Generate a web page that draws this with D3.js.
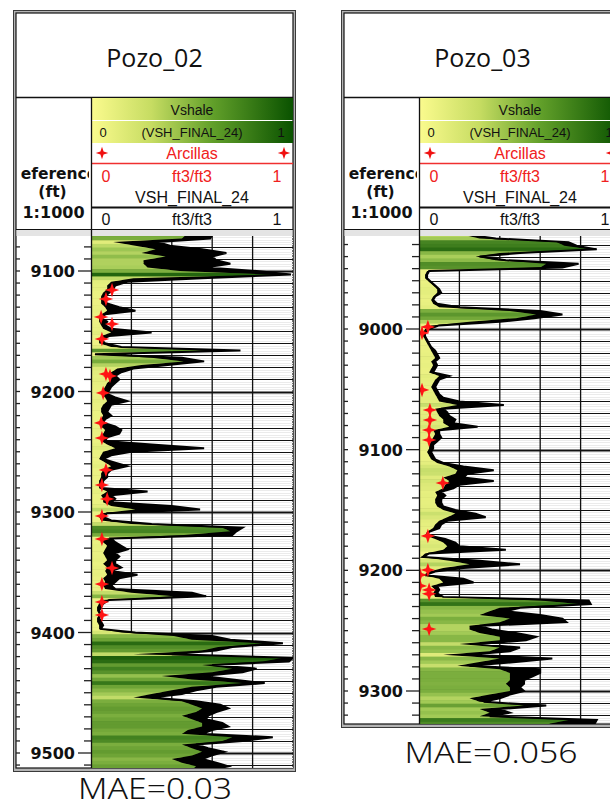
<!DOCTYPE html>
<html><head><meta charset="utf-8">
<script src="https://cdn.jsdelivr.net/npm/d3@7"></script>
<style>body{margin:0;background:#fff}svg{display:block}</style>
</head><body>
<svg id="c" width="610" height="807"></svg>
<script>
// ---------------- DATA ----------------
const wellNames = ["Pozo_02", "Pozo_03"];
const maeLabels = ["MAE=0.03", "MAE=0.056"];
const depthTicks02 = [9100, 9200, 9300, 9400, 9500];
const depthTicks03 = [9000, 9100, 9200, 9300];
const sampleStep = 3;           // ft between samples
const startDepth02 = 9070;
const startDepth03 = 8922;

// Vshale shading (fill) and VSH_FINAL_24 curve, Pozo_02 (0..1)
const fill02 = [.47,.45,.11,.22,.32,.25,.37,.26,.26,.28,.44,.90,.21,.10,.08,.08,.06,.05,.05,.05,
.07,.08,.05,.04,.04,.05,.06,.10,.05,.04,.04,.10,.59,.01,.30,.46,.25,.13,.10,.08,
.10,.08,.07,.06,.05,.07,.08,.06,.05,.05,.06,.05,.04,.05,.07,.06,.05,.05,.08,.12,
.06,.05,.04,.07,.10,.06,.05,.05,.04,.04,.04,.08,.05,.06,.06,.10,.22,.05,.04,.05,
.20,.65,.69,.46,.05,.06,.08,.07,.06,.07,.08,.06,.08,.07,.08,.06,.07,.06,.07,.20,
.41,.05,.04,.03,.03,.04,.03,.03,.04,.04,.15,.41,.50,.85,.63,.55,.21,.95,.85,.55,
.70,.60,.35,.50,.75,.50,.40,.30,.21,.45,.50,.55,.52,.45,.50,.55,.55,.48,.45,.70,
.65,.45,.50,.55,.50,.40,.45,.52,.50];
const line02 = [.60,.59,.33,.39,.55,.67,.60,.62,.69,.57,.82,.99,.55,.18,.12,.11,.09,.07,.06,.08,
.14,.22,.07,.05,.08,.07,.10,.30,.09,.05,.07,.15,.74,.02,.45,.56,.38,.21,.15,.12,
.14,.12,.10,.09,.08,.12,.18,.10,.09,.08,.10,.07,.06,.12,.15,.14,.08,.07,.30,.56,
.20,.10,.06,.12,.18,.10,.08,.08,.06,.06,.05,.28,.10,.12,.10,.40,.54,.08,.06,.10,
.30,.75,.72,.70,.10,.12,.15,.18,.12,.14,.12,.12,.15,.10,.23,.14,.12,.10,.12,.50,
.57,.09,.06,.05,.04,.05,.04,.05,.06,.05,.22,.60,.69,.95,.70,.62,.40,1.0,.98,.60,
.82,.75,.55,.70,.86,.62,.52,.45,.30,.52,.64,.68,.62,.58,.57,.65,.68,.60,.55,.90,
.75,.52,.58,.66,.60,.55,.62,.68,.60];

// Pozo_03
const fill03 = [.22,.30,.68,.72,.84,.40,.28,.38,.63,.60,.04,.03,.03,.05,.07,.09,.09,.07,.06,.07,
.10,.45,.58,.48,.25,.06,.03,.02,.02,.03,.04,.05,.06,.07,.08,.06,.07,.06,.05,.10,
.08,.07,.06,.07,.08,.09,.10,.19,.08,.09,.10,.12,.12,.15,.07,.08,.07,.06,.05,.05,
.04,.05,.06,.09,.15,.19,.18,.12,.15,.13,.12,.08,.09,.08,.08,.09,.12,.18,.14,.10,
.08,.07,.04,.03,.08,.12,.14,.12,.03,.01,.15,.25,.12,.05,.02,.10,.12,.06,.08,.07,
.08,.60,.79,.40,.35,.30,.45,.40,.25,.25,.30,.40,.40,.20,.40,.35,.12,.40,.30,.19,
.40,.45,.45,.45,.43,.45,.45,.35,.25,.30,.52,.30,.35,.30,.74,.65,.60];
const line03 = [.25,.38,.74,.78,.88,.50,.30,.43,.79,.71,.05,.04,.04,.06,.08,.10,.11,.08,.07,.09,
.20,.60,.71,.57,.40,.10,.05,.03,.03,.04,.05,.06,.08,.09,.10,.08,.09,.08,.07,.15,
.10,.09,.08,.09,.10,.12,.20,.42,.12,.14,.15,.18,.17,.29,.10,.10,.11,.09,.07,.07,
.06,.07,.08,.12,.22,.37,.24,.22,.37,.20,.17,.11,.13,.11,.11,.12,.18,.28,.33,.14,
.11,.10,.05,.04,.13,.18,.20,.43,.05,.02,.30,.50,.22,.08,.03,.22,.27,.09,.10,.09,
.12,.84,.85,.50,.43,.60,.71,.73,.30,.36,.48,.58,.53,.30,.50,.45,.25,.66,.48,.25,
.60,.60,.56,.52,.52,.50,.52,.45,.40,.32,.63,.40,.45,.35,.88,.87,.70];

// Arcillas (core clay points): [depth ft, value]
const stars02 = [[9115.8,.104],[9123.2,.074],[9138.2,.05],[9144,.104],[9156.4,.054],[9185.5,.074],
[9187.1,.094],[9201.2,.06],[9226.1,.05],[9238.6,.054],[9265.1,.074],[9277.6,.054],[9289.2,.08],
[9303.3,.054],[9322.4,.054],[9346.5,.104],[9359.8,.054],[9374.7,.054],[9385.5,.054]];
const stars03 = [[8998.3,.044],[9003.3,.015],[9050.5,.015],[9067.1,.054],[9075.4,.054],[9083.7,.05],
[9092,.05],[9127.6,.118],[9171.5,.044],[9199.7,.044],[9203.8,.005],[9212.9,.005],[9216.2,.05],
[9219.5,.05],[9248.6,.05]];

// ---------------- DRAW ----------------
const svg = d3.select("#c");
const defs = svg.append("defs");
const grad = defs.append("linearGradient").attr("id", "vg");
[["0%","#fbfb8e"],["30%","#c6dc62"],["60%","#62a02a"],["100%","#0a5200"]].forEach(s =>
  grad.append("stop").attr("offset", s[0]).attr("stop-color", s[1]));

const vshColor = d3.scaleLinear()
  .domain([0, 0.12, 0.3, 0.5, 0.75, 1])
  .range(["#f4f68a", "#dfeb7a", "#a2ca56", "#6ea436", "#37781a", "#165806"]);

const starType = {
  draw(ctx, size) {
    const r = Math.sqrt(size) * 0.75, a = r * 0.25;
    ctx.moveTo(0, -r); ctx.lineTo(a, -a); ctx.lineTo(r, 0); ctx.lineTo(a, a);
    ctx.lineTo(0, r); ctx.lineTo(-a, a); ctx.lineTo(-r, 0); ctx.lineTo(-a, -a); ctx.closePath();
  }
};
const starPath = d3.symbol().type(starType).size(95)();
const starPathSmall = d3.symbol().type(starType).size(70)();

function panel(cfg) {
  const L = cfg.left, B = cfg.bottom;
  const g = svg.append("g");
  const trackL = L + 78, trackR = L + 280, cx = (trackL + trackR) / 2;
  const dataTop = 236, dataBot = B - 3;
  const x = d3.scaleLinear().domain([0, 1]).range([trackL, trackR]);
  const y = d3.scaleLinear().domain(cfg.yDomain).range(cfg.yRange);

  // frame
  g.append("rect").attr("x", L + 0.5).attr("y", 10.5).attr("width", 282).attr("height", B - 10)
    .attr("fill", "#b4b4b4").attr("stroke", "#3a3a3a");
  g.append("rect").attr("x", L + 3).attr("y", 13).attr("width", 277).attr("height", B - 16)
    .attr("fill", "#fff").attr("stroke", "#111").attr("stroke-width", 1.2);

  // title
  g.append("text").attr("x", L + 141.5).attr("y", 67).attr("text-anchor", "middle")
    .attr("font-family", "'Open Sans', sans-serif").attr("font-size", 25).attr("fill", "#111")
    .text(cfg.name);
  g.append("line").attr("x1", L + 3).attr("x2", L + 280).attr("y1", 97.5).attr("y2", 97.5)
    .attr("stroke", "#111").attr("stroke-width", 1.5);

  // header track
  g.append("rect").attr("x", trackL).attr("y", 98).attr("width", trackR - trackL).attr("height", 22).attr("fill", "url(#vg)");
  g.append("rect").attr("x", trackL).attr("y", 121).attr("width", trackR - trackL).attr("height", 22).attr("fill", "url(#vg)");
  const hf = "'Liberation Sans', Arial, sans-serif";
  const T = (tx, ty, s, size, col, anchor) => g.append("text").attr("x", tx).attr("y", ty)
    .attr("text-anchor", anchor || "middle").attr("font-family", hf).attr("font-size", size)
    .attr("fill", col).text(s);
  T(cx, 115, "Vshale", 14, "#111");
  T(trackL + 12, 137, "0", 13, "#111");
  T(cx, 137, "(VSH_FINAL_24)", 13, "#111");
  T(trackR - 12, 137, "1", 13, "#111");
  g.append("path").attr("d", starPathSmall).attr("transform", `translate(${trackL + 11},153)`).attr("fill", "#f01010");
  g.append("path").attr("d", starPathSmall).attr("transform", `translate(${trackR - 9},153)`).attr("fill", "#f01010");
  T(cx, 159, "Arcillas", 16, "#f02020");
  g.append("line").attr("x1", trackL).attr("x2", trackR).attr("y1", 163.5).attr("y2", 163.5)
    .attr("stroke", "#f03030").attr("stroke-width", 1.5);
  T(trackL + 15, 182, "0", 16, "#f02020");
  T(cx, 182, "ft3/ft3", 16, "#f02020");
  T(trackR - 16, 182, "1", 16, "#f02020");
  T(cx, 203, "VSH_FINAL_24", 16, "#111");
  g.append("line").attr("x1", trackL).attr("x2", trackR).attr("y1", 207.5).attr("y2", 207.5)
    .attr("stroke", "#111").attr("stroke-width", 2);
  T(trackL + 15, 225, "0", 16, "#111");
  T(cx, 225, "ft3/ft3", 16, "#111");
  T(trackR - 16, 225, "1", 16, "#111");

  // depth column header (clipped by nested svg viewport; origin at L+8)
  const bf = "'DejaVu Sans', sans-serif";
  const dh = g.append("svg").attr("x", L + 8).attr("y", 98).attr("width", 68).attr("height", 131)
    .attr("overflow", "hidden");
  [["Reference", 81, 15.5, 32], ["(ft)", 99, 15.5, 31.5], ["1:1000", 120, 16, 32.5]].forEach(d =>
    dh.append("text").attr("x", d[3]).attr("y", d[1]).attr("text-anchor", "middle")
      .attr("font-family", bf).attr("font-weight", "bold").attr("font-size", d[2]).attr("fill", "#111").text(d[0]));

  // header bottom + gray band
  g.append("line").attr("x1", L + 3).attr("x2", L + 280).attr("y1", 229.5).attr("y2", 229.5).attr("stroke", "#111");
  g.append("rect").attr("x", L + 3.5).attr("y", 230).attr("width", 276).attr("height", 6).attr("fill", "#e4e4e4");

  // data area
  const dataClip = "da" + cfg.id;
  defs.append("clipPath").attr("id", dataClip).append("rect")
    .attr("x", trackL).attr("y", dataTop).attr("width", trackR - trackL).attr("height", dataBot - dataTop);
  const dg = g.append("g").attr("clip-path", `url(#${dataClip})`);
  const d0 = y.invert(dataTop), d1 = y.invert(dataBot);

  // light gridlines every 2 ft
  const fine = d3.range(Math.ceil(d0 / 2) * 2, d1, 2).filter(d => d % 10 !== 0);
  dg.selectAll(".fg").data(fine).join("line").attr("x1", trackL).attr("x2", trackR)
    .attr("y1", d => Math.round(y(d)) + 0.5).attr("y2", d => Math.round(y(d)) + 0.5)
    .attr("stroke", "#ebebeb").attr("stroke-width", 1);
  const tens = d3.range(Math.ceil(d0 / 10) * 10, d1, 10);
  dg.selectAll(".tg").data(tens).join("line").attr("x1", trackL).attr("x2", trackR)
    .attr("y1", d => Math.round(y(d)) + 0.5).attr("y2", d => Math.round(y(d)) + 0.5)
    .attr("stroke", "#111").attr("stroke-width", d => d % 100 === 0 ? 2 : 1.2);
  dg.selectAll(".vg").data([0.2, 0.4, 0.6, 0.8]).join("line")
    .attr("x1", d => x(d)).attr("x2", d => x(d)).attr("y1", dataTop).attr("y2", dataBot)
    .attr("stroke", "#111").attr("stroke-width", 1.3);

  const depths = d3.range(cfg.fill.length).map(i => cfg.start + i * sampleStep);
  const fillData = depths.map((d, i) => ({ d, v: cfg.fill[i] }));
  const lineData = depths.map((d, i) => ({ d, v: cfg.line[i] }));

  // black body of the VSH curve (0 -> curve)
  dg.append("path").attr("d", d3.area().y(p => y(p.d)).x0(trackL).x1(p => x(p.v))(lineData))
    .attr("fill", "#000");

  // fill: colour stripes clipped by fill area
  const areaClip = "ac" + cfg.id;
  defs.append("clipPath").attr("id", areaClip).append("path")
    .attr("d", d3.area().y(p => y(p.d)).x0(trackL).x1(p => x(p.v)).curve(d3.curveLinear)(fillData));
  const sg = dg.append("g").attr("clip-path", `url(#${areaClip})`);
  const h = sampleStep * Math.abs(y(1) - y(0));
  sg.selectAll("rect").data(fillData).join("rect")
    .attr("x", trackL).attr("width", trackR - trackL)
    .attr("y", p => y(p.d) - h / 2).attr("height", h + 0.6)
    .attr("fill", p => vshColor(p.v));

  // VSH curve outline
  dg.append("path").attr("d", d3.line().x(p => x(p.v)).y(p => y(p.d))(lineData))
    .attr("fill", "none").attr("stroke", "#000").attr("stroke-width", 2).attr("stroke-linejoin", "miter");

  // Arcillas stars
  dg.selectAll(".st").data(cfg.stars).join("path").attr("d", starPath)
    .attr("transform", s => `translate(${x(s[1])},${y(s[0])})`).attr("fill", "#ff1414");

  // track left border
  g.append("line").attr("x1", trackL + 0.5).attr("x2", trackL + 0.5).attr("y1", 97).attr("y2", B - 3)
    .attr("stroke", "#111").attr("stroke-width", 1.3);

  // depth ticks
  const minor = d3.range(Math.ceil(d0 / 10) * 10, d1, 10);
  g.selectAll(".mt").data(minor).join("line")
    .attr("x1", d => d % 100 === 0 ? L + 65 : L + 71).attr("x2", trackL)
    .attr("y1", d => y(d)).attr("y2", d => y(d)).attr("stroke", "#222").attr("stroke-width", 1.3);
  g.selectAll(".lt").data(minor).join("line")
    .attr("x1", L + 3).attr("x2", L + 7)
    .attr("y1", d => y(d)).attr("y2", d => y(d)).attr("stroke", "#222").attr("stroke-width", 1.3);
  g.selectAll(".dl").data(cfg.ticks).join("text")
    .attr("x", L + 62).attr("y", d => y(d) + 6).attr("text-anchor", "end")
    .attr("font-family", bf).attr("font-weight", "bold").attr("font-size", 16).attr("fill", "#111")
    .text(d => d);

  // MAE label
  svg.append("text").attr("x", cfg.maeX).attr("y", cfg.maeY).attr("text-anchor", "middle")
    .attr("font-family", "'Noto Sans', sans-serif").attr("font-weight", 300).attr("font-size", 30)
    .attr("textLength", cfg.maeW).attr("lengthAdjust", "spacingAndGlyphs")
    .attr("fill", "#111").text(cfg.mae);
}

panel({ id: 1, left: 13, bottom: 771, name: wellNames[0], mae: maeLabels[0], maeX: 155, maeY: 799, maeW: 154,
  yDomain: [9100, 9500], yRange: [271, 753], start: startDepth02, fill: fill02, line: line02,
  stars: stars02, ticks: depthTicks02 });
panel({ id: 2, left: 341, bottom: 727, name: wellNames[1], mae: maeLabels[1], maeX: 491, maeY: 763, maeW: 173,
  yDomain: [9000, 9300], yRange: [329, 691], start: startDepth03, fill: fill03, line: line03,
  stars: stars03, ticks: depthTicks03 });
</script>
</body></html>
